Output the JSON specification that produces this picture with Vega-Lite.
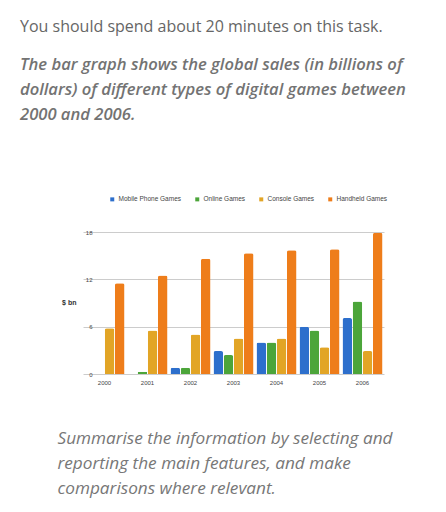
{
  "$schema": "https://vega.github.io/schema/vega-lite/v6.json",
  "description": "Global sales of digital games by type, 2000-2006, in billions of dollars.",
  "autosize": {"type": "none"},
  "padding": {"left": 83, "top": 232, "right": 62, "bottom": 138},
  "width": 301,
  "height": 142,
  "background": "white",
  "title": {
    "text": "You should spend about 20 minutes on this task.",
    "subtitle": [
      "The bar graph shows the global sales (in billions of",
      "dollars) of different types of digital games between",
      "2000 and 2006."
    ],
    "anchor": "start",
    "frame": "group",
    "dx": -63,
    "offset": 72,
    "font": "Open Sans",
    "fontSize": 16,
    "fontWeight": "normal",
    "color": "#666666",
    "subtitleFont": "Open Sans",
    "subtitleFontSize": 16.6,
    "subtitleFontStyle": "italic",
    "subtitleFontWeight": 600,
    "subtitleColor": "#737373",
    "subtitleLineHeight": 25,
    "subtitlePadding": 22
  },
  "data": {
    "values": [
      {"year": "2000", "type": "Mobile Phone Games", "sales": 0},
      {"year": "2000", "type": "Online Games", "sales": 0},
      {"year": "2000", "type": "Console Games", "sales": 5.8},
      {"year": "2000", "type": "Handheld Games", "sales": 11.5},
      {"year": "2001", "type": "Mobile Phone Games", "sales": 0},
      {"year": "2001", "type": "Online Games", "sales": 0.3},
      {"year": "2001", "type": "Console Games", "sales": 5.5},
      {"year": "2001", "type": "Handheld Games", "sales": 12.5},
      {"year": "2002", "type": "Mobile Phone Games", "sales": 0.8},
      {"year": "2002", "type": "Online Games", "sales": 0.8},
      {"year": "2002", "type": "Console Games", "sales": 5.0},
      {"year": "2002", "type": "Handheld Games", "sales": 14.6},
      {"year": "2003", "type": "Mobile Phone Games", "sales": 2.9},
      {"year": "2003", "type": "Online Games", "sales": 2.4},
      {"year": "2003", "type": "Console Games", "sales": 4.5},
      {"year": "2003", "type": "Handheld Games", "sales": 15.3},
      {"year": "2004", "type": "Mobile Phone Games", "sales": 4.0},
      {"year": "2004", "type": "Online Games", "sales": 4.0},
      {"year": "2004", "type": "Console Games", "sales": 4.5},
      {"year": "2004", "type": "Handheld Games", "sales": 15.7},
      {"year": "2005", "type": "Mobile Phone Games", "sales": 6.0},
      {"year": "2005", "type": "Online Games", "sales": 5.5},
      {"year": "2005", "type": "Console Games", "sales": 3.4},
      {"year": "2005", "type": "Handheld Games", "sales": 15.8},
      {"year": "2006", "type": "Mobile Phone Games", "sales": 7.1},
      {"year": "2006", "type": "Online Games", "sales": 9.2},
      {"year": "2006", "type": "Console Games", "sales": 2.9},
      {"year": "2006", "type": "Handheld Games", "sales": 17.9}
    ]
  },
  "mark": {"type": "bar", "cornerRadiusTopLeft": 2, "cornerRadiusTopRight": 2},
  "encoding": {
    "x": {
      "field": "year",
      "type": "nominal",
      "scale": {"paddingInner": 0.07, "paddingOuter": 0.035},
      "axis": {
        "title": [
          "Summarise the information by selecting and",
          "reporting the main features, and make",
          "comparisons where relevant."
        ],
        "titleFont": "Open Sans",
        "titleFontSize": 17.2,
        "titleFontStyle": "italic",
        "titleFontWeight": "normal",
        "titleColor": "#777777",
        "titleLineHeight": 25,
        "titleAnchor": "start",
        "titleAlign": "left",
        "titleBaseline": "alphabetic",
        "titleX": -26,
        "titleY": 69,
        "labelAngle": 0,
        "labelFont": "Liberation Sans",
        "labelFontSize": 6,
        "labelColor": "#444444",
        "labelPadding": 5,
        "domain": false,
        "ticks": false
      }
    },
    "xOffset": {
      "field": "type",
      "type": "nominal",
      "sort": ["Mobile Phone Games", "Online Games", "Console Games", "Handheld Games"],
      "scale": {"paddingInner": 0.06}
    },
    "y": {
      "field": "sales",
      "type": "quantitative",
      "scale": {"domain": [0, 18]},
      "axis": {
        "values": [0, 6, 12, 18],
        "title": "$ bn",
        "titleAngle": 0,
        "titleAlign": "right",
        "titleBaseline": "middle",
        "titleX": -7,
        "titleY": 70,
        "titleFont": "Liberation Sans",
        "titleFontSize": 7,
        "titleFontWeight": "bold",
        "titleColor": "#333333",
        "labelFont": "Liberation Sans",
        "labelFontSize": 6,
        "labelColor": "#444444",
        "labelPadding": -9,
        "domain": false,
        "ticks": false,
        "gridColor": "#cccccc",
        "gridWidth": 1
      }
    },
    "color": {
      "field": "type",
      "type": "nominal",
      "sort": ["Mobile Phone Games", "Online Games", "Console Games", "Handheld Games"],
      "scale": {
        "domain": ["Mobile Phone Games", "Online Games", "Console Games", "Handheld Games"],
        "range": ["#2d6fcc", "#4ca53a", "#e2a526", "#ee7d1a"]
      },
      "legend": {
        "title": null,
        "orient": "none",
        "direction": "horizontal",
        "legendX": 26,
        "legendY": -36,
        "symbolType": "square",
        "symbolSize": 16,
        "labelFont": "Liberation Sans",
        "labelFontSize": 6.5,
        "labelColor": "#444444",
        "labelOffset": 3,
        "columnPadding": 12
      }
    }
  },
  "config": {
    "view": {"stroke": null}
  }
}
